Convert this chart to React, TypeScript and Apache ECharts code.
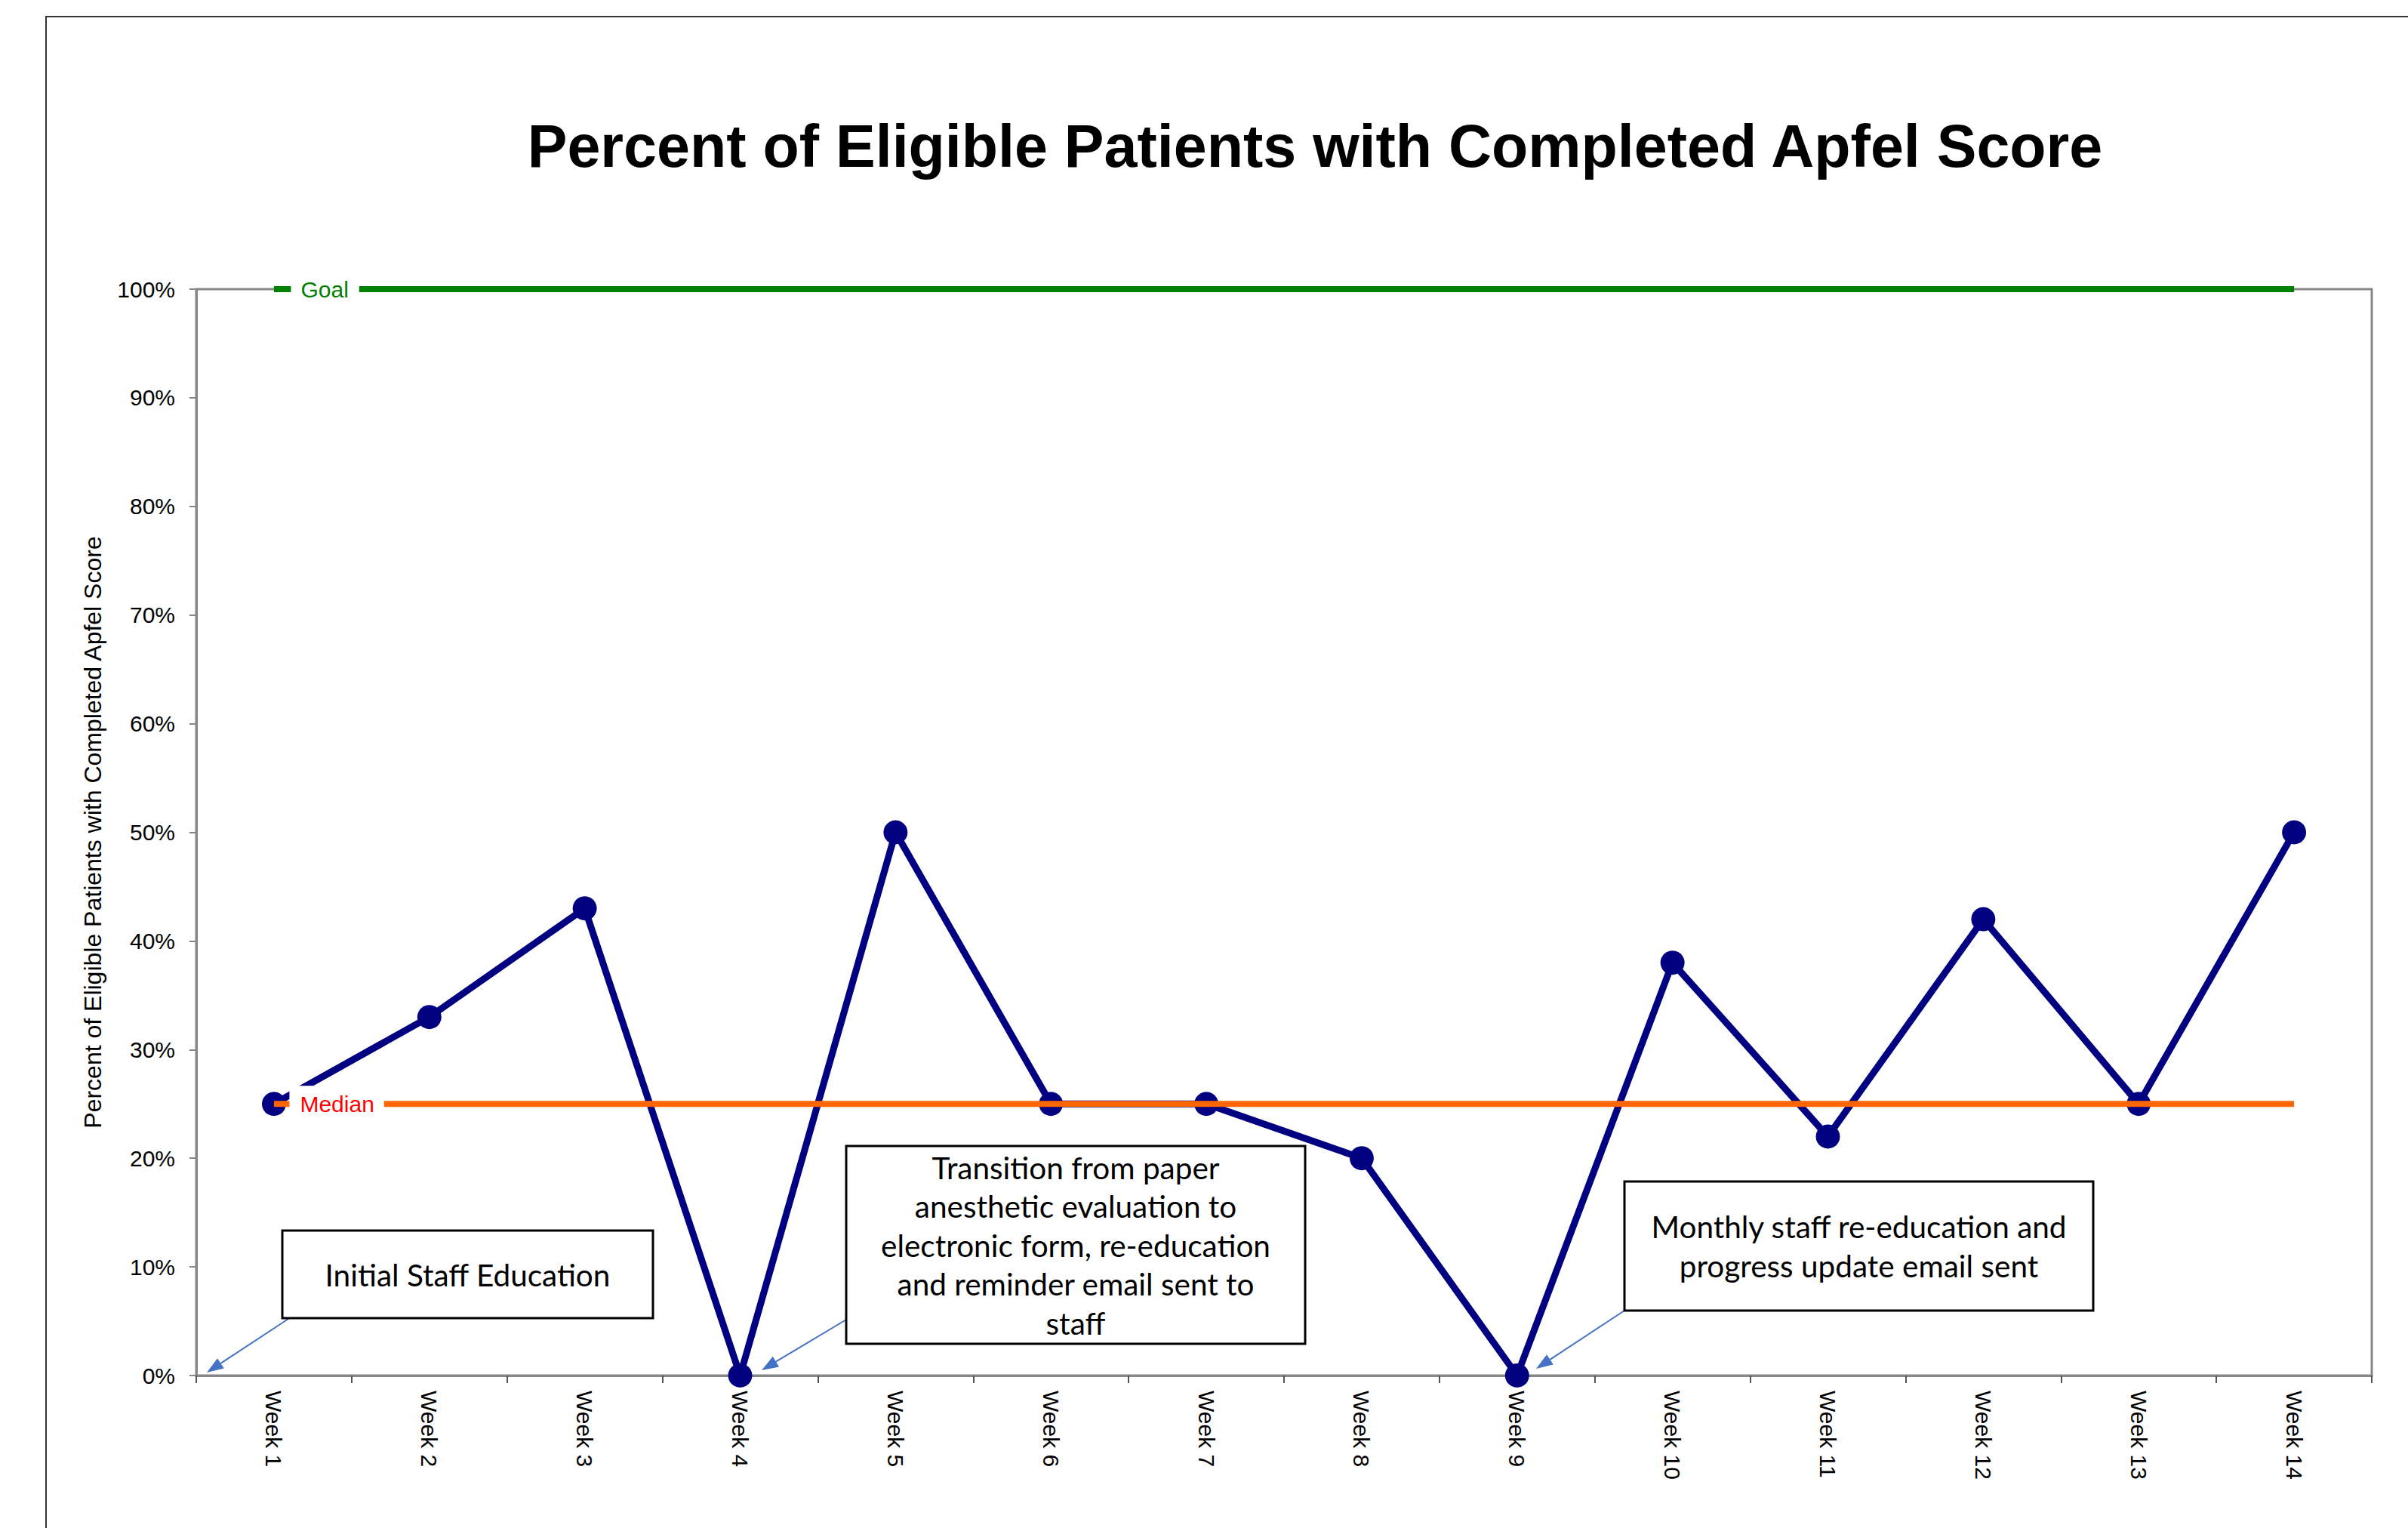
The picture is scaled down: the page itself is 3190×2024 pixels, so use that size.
import React, { useEffect, useRef } from "react";
import * as echarts from "echarts";

const weeks = [
  "Week 1", "Week 2", "Week 3", "Week 4", "Week 5", "Week 6", "Week 7",
  "Week 8", "Week 9", "Week 10", "Week 11", "Week 12", "Week 13", "Week 14",
];
const percentCompleted = [0.25, 0.33, 0.43, 0, 0.5, 0.25, 0.25, 0.2, 0, 0.38, 0.22, 0.42, 0.25, 0.5];
const medianValues = [0.25, 0.25, 0.25, 0.25, 0.25, 0.25, 0.25, 0.25, 0.25, 0.25, 0.25, 0.25, 0.25, 0.25];
const goalValues = [1, 1, 1, 1, 1, 1, 1, 1, 1, 1, 1, 1, 1, 1];

const TITLE = "Percent of Eligible Patients with Completed Apfel Score";
const Y_NAME = "Percent of Eligible Patients with Completed Apfel Score";
const NOTE_1 = ["Initial Staff Education"];
const NOTE_2 = [
  "Transition from paper",
  "anesthetic evaluation to",
  "electronic form, re-education",
  "and reminder email sent to",
  "staff",
];
const NOTE_3 = ["Monthly staff re-education and", "progress update email sent"];

const AXIS_FONT = "'Liberation Sans', Arial, sans-serif";
const NOTE_FONT = "Lato, 'Open Sans', sans-serif";
const GREY = "#878787";

function arrow(x1: number, y1: number, x2: number, y2: number) {
  const dx = x2 - x1;
  const dy = y2 - y1;
  const len = Math.sqrt(dx * dx + dy * dy);
  const ux = dx / len;
  const uy = dy / len;
  const hl = 22;
  const hw = 8;
  const bx = x2 - ux * hl;
  const by = y2 - uy * hl;
  return [
    {
      type: "line",
      shape: { x1, y1, x2: bx, y2: by },
      style: { stroke: "#4472C4", lineWidth: 2 },
      z: 20,
    },
    {
      type: "polygon",
      shape: {
        points: [
          [x2, y2],
          [bx - uy * hw, by + ux * hw],
          [bx + uy * hw, by - ux * hw],
        ],
      },
      style: { fill: "#4472C4" },
      z: 20,
    },
  ];
}

function note(x: number, y: number, w: number, h: number, lines: string[]) {
  return [
    {
      type: "rect",
      shape: { x, y, width: w, height: h },
      style: { fill: "#ffffff", stroke: "#000000", lineWidth: 3 },
      z: 21,
    },
    {
      type: "text",
      x: x + w / 2,
      y: y + h / 2,
      style: {
        text: lines.join("\n"),
        align: "center",
        verticalAlign: "middle",
        fontFamily: NOTE_FONT,
        fontSize: 40.5,
        lineHeight: 51.5,
        fill: "#000000",
      },
      z: 22,
    },
  ];
}

export default function App() {
  const ref = useRef<HTMLDivElement>(null);

  useEffect(() => {
    if (!ref.current) return;
    const chart = echarts.init(ref.current, undefined, { renderer: "svg" });

    const option: any = {
      animation: false,
      backgroundColor: "#ffffff",
      grid: {
        left: 260,
        right: 48,
        top: 383,
        bottom: 202,
        show: true,
        borderColor: GREY,
        borderWidth: 3,
        backgroundColor: "transparent",
      },
      xAxis: {
        type: "category",
        data: weeks,
        boundaryGap: true,
        axisLine: { show: true, lineStyle: { color: GREY, width: 3 } },
        axisTick: { show: true, length: 10, lineStyle: { color: "#555", width: 2 } },
        axisLabel: {
          interval: 0,
          rotate: -90,
          margin: 20,
          color: "#000",
          fontSize: 30,
          fontFamily: AXIS_FONT,
        },
        splitLine: { show: false },
      },
      yAxis: {
        type: "value",
        min: 0,
        max: 1,
        interval: 0.1,
        name: Y_NAME,
        nameLocation: "middle",
        nameRotate: 90,
        nameGap: 121,
        nameTextStyle: { color: "#000", fontSize: 32, fontFamily: AXIS_FONT },
        axisLine: { show: true, lineStyle: { color: GREY, width: 3 } },
        axisTick: { show: true, length: 9, lineStyle: { color: GREY, width: 2 } },
        axisLabel: {
          margin: 28,
          color: "#000",
          fontSize: 30,
          fontFamily: AXIS_FONT,
          formatter: (v: number) => Math.round(v * 100) + "%",
        },
        splitLine: { show: false },
      },
      series: [
        {
          name: "Percent",
          type: "line",
          data: percentCompleted,
          symbol: "circle",
          symbolSize: 32,
          itemStyle: { color: "#000080" },
          lineStyle: { color: "#000080", width: 9 },
          z: 2,
        },
        {
          name: "Median",
          type: "line",
          data: medianValues.map((v, i) =>
            i === 0
              ? {
                  value: v,
                  label: {
                    show: true,
                    position: "right",
                    distance: 20,
                    formatter: "Median",
                    color: "#FF0000",
                    fontSize: 30,
                    fontFamily: AXIS_FONT,
                    backgroundColor: "#ffffff",
                    padding: [9, 13, 9, 14],
                    lineHeight: 30,
                  },
                }
              : v
          ),
          symbol: "circle",
          symbolSize: 1,
          showSymbol: true,
          itemStyle: { color: "rgba(0,0,0,0)" },
          lineStyle: { color: "#FF6600", width: 8 },
          z: 3,
        },
        {
          name: "Goal",
          type: "line",
          data: goalValues.map((v, i) =>
            i === 0
              ? {
                  value: v,
                  label: {
                    show: true,
                    position: "right",
                    distance: 22,
                    formatter: "Goal",
                    color: "#008000",
                    fontSize: 30,
                    fontFamily: AXIS_FONT,
                    backgroundColor: "#ffffff",
                    padding: [9, 14, 9, 13],
                    lineHeight: 30,
                  },
                }
              : v
          ),
          symbol: "circle",
          symbolSize: 1,
          showSymbol: true,
          itemStyle: { color: "rgba(0,0,0,0)" },
          lineStyle: { color: "#008000", width: 8 },
          z: 3,
        },
      ],
      graphic: [
        {
          type: "rect",
          shape: { x: 61, y: 22, width: 3300, height: 2200 },
          style: { fill: "none", stroke: "#333333", lineWidth: 2 },
          z: 1,
          silent: true,
        },
        {
          type: "text",
          x: 1742,
          y: 193,
          style: {
            text: TITLE,
            align: "center",
            verticalAlign: "middle",
            fontFamily: AXIS_FONT,
            fontWeight: "bold",
            fontSize: 79,
            fill: "#000000",
          },
          z: 5,
        },
        ...arrow(385, 1745, 274, 1818),
        ...arrow(1121, 1748, 1009, 1815),
        ...arrow(2152, 1736, 2035, 1813),
        ...note(374, 1630, 491, 116, NOTE_1),
        ...note(1121, 1518, 608, 262, NOTE_2),
        ...note(2152, 1565, 621, 171, NOTE_3),
      ],
    };

    chart.setOption(option);
    return () => chart.dispose();
  }, []);

  return (
    <div
      ref={ref}
      style={{ position: "fixed", left: 0, top: 0, width: 3190, height: 2024, background: "#fff" }}
    />
  );
}
